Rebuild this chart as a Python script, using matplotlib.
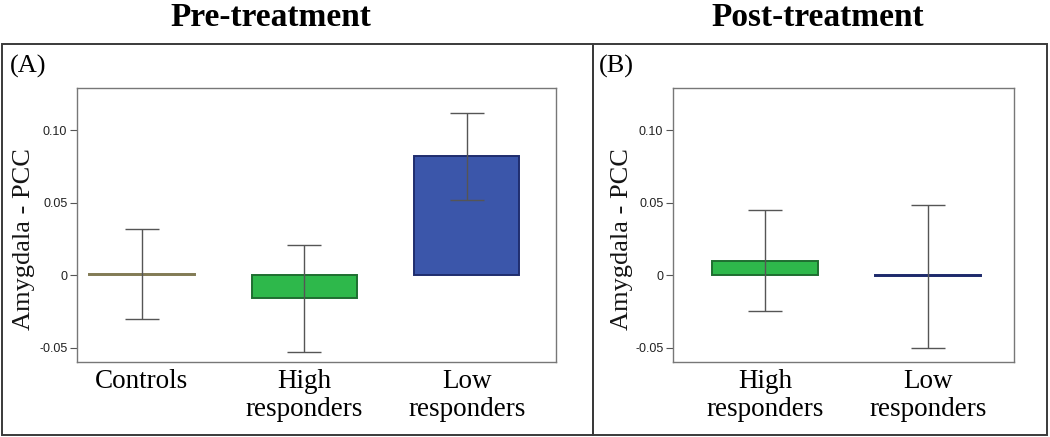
import numpy as np
import matplotlib
matplotlib.use("Agg")
import matplotlib.pyplot as plt
from matplotlib.patches import Rectangle

# values
pre_groups = ["Controls", "High\nresponders", "Low\nresponders"]
pre_means = [0.001, -0.016, 0.082]
pre_err = [0.031, 0.037, 0.030]
pre_colors = ["#958f66", "#2eb84b", "#3b56aa"]
pre_edges = ["#827b55", "#1e6e30", "#1f2d6e"]

post_groups = ["High\nresponders", "Low\nresponders"]
post_means = [0.010, -0.001]
post_err = [0.035, 0.0495]
post_colors = ["#2eb84b", "#1d2a6b"]
post_edges = ["#1e6e30", "#1d2a6b"]

yticks = [-0.05, 0, 0.05, 0.10]
ytick_labels = ["-0.05", "0", "0.05", "0.10"]

W, H = 1050, 437
fig = plt.figure(figsize=(W / 100, H / 100), dpi=100)
fig.patch.set_facecolor("white")

def fx(px):
    return px / W

def fy(py):
    return 1 - py / H

# panel frames
for x0, x1 in [(2, 593), (593, 1047)]:
    fig.patches.append(Rectangle((fx(x0), fy(435)), fx(x1 - x0), (435 - 44) / H,
                                 transform=fig.transFigure, fill=False,
                                 edgecolor="#3a3a3a", linewidth=1.4))

serif = "Liberation Serif"
fig.text(fx(271), fy(17), "Pre-treatment", ha="center", va="center",
         family=serif, weight="bold", fontsize=24)
fig.text(fx(818), fy(17), "Post-treatment", ha="center", va="center",
         family=serif, weight="bold", fontsize=24)
fig.text(fx(10), fy(66), "(A)", ha="left", va="center", family=serif, fontsize=19)
fig.text(fx(599), fy(66), "(B)", ha="left", va="center", family=serif, fontsize=19)


def draw(ax, groups, means, errs, colors, edges, xlim, label_x):
    x = np.arange(len(groups))
    ax.bar(x, means, width=0.65, color=colors, edgecolor=edges, linewidth=1.4, zorder=2)
    ax.errorbar(x, means, yerr=errs, fmt="none", ecolor="#555555",
                elinewidth=1, capsize=12, capthick=1, zorder=3)
    ax.set_xlim(*xlim)
    ax.set_ylim(-0.06, 0.129)
    ax.set_yticks(yticks)
    ax.set_yticklabels(ytick_labels, family="Liberation Sans", fontsize=9, color="#222222")
    ax.set_xticks(x)
    ax.set_xticklabels(groups, family=serif, fontsize=19.5, linespacing=1.15)
    ax.tick_params(axis="x", length=0, pad=5)
    ax.tick_params(axis="y", length=5, width=0.8, color="#555555", pad=2)
    for s in ax.spines.values():
        s.set_color("#777777")
        s.set_linewidth(1)
    ax.set_ylabel("Amygdala - PCC", family=serif, fontsize=19, color="#141414")
    ax.yaxis.set_label_coords(label_x, 0.45)


axA = fig.add_axes([fx(77), fy(362), fx(556 - 77), (362 - 88) / H])
draw(axA, pre_groups, pre_means, pre_err, pre_colors, pre_edges, (-0.40, 2.55), -0.088)

axB = fig.add_axes([fx(673), fy(362), fx(1014 - 673), (362 - 88) / H])
draw(axB, post_groups, post_means, post_err, post_colors, post_edges, (-0.565, 1.53), -0.117)

fig.savefig("out.png", dpi=100, facecolor="white")
